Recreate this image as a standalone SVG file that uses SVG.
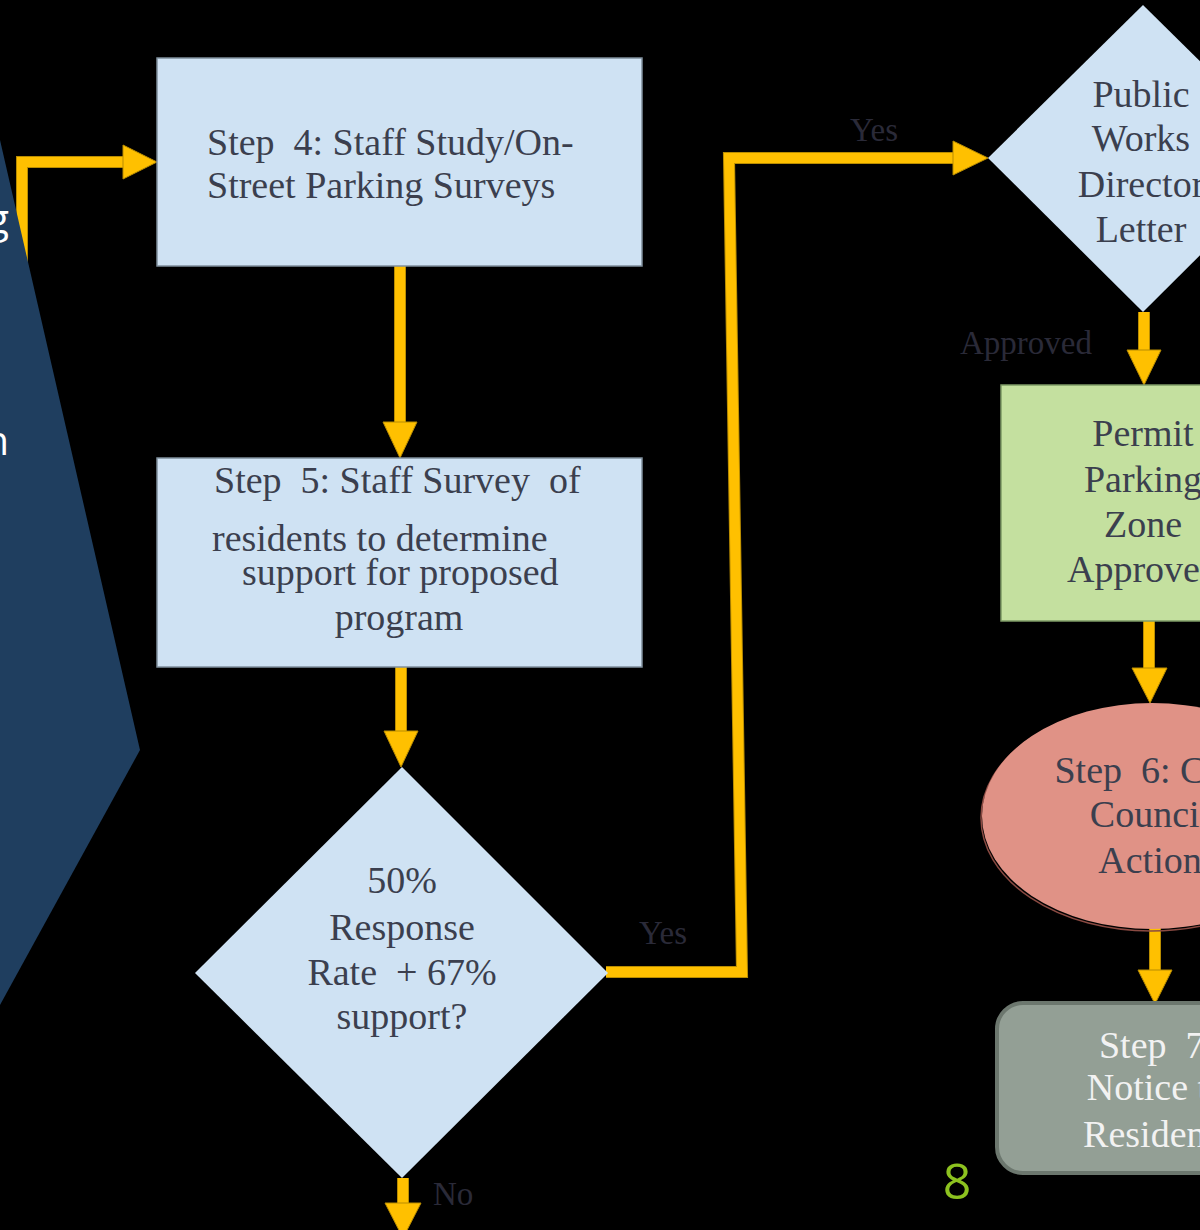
<svg xmlns="http://www.w3.org/2000/svg" width="1200" height="1230" viewBox="0 0 1200 1230">
<style>
text{white-space:pre}
.bg{fill:#000000}
.box{fill:#CFE2F3;stroke:#7F8E9C;stroke-width:1.5}
.t{font-family:"Liberation Serif","Times New Roman",serif;font-size:38px;fill:#3B3F4E}
.tc{text-anchor:middle}
.lbl{font-family:"Liberation Serif","Times New Roman",serif;font-size:33px;fill:#2A2A38}
.wt{font-family:"Liberation Serif","Times New Roman",serif;font-size:38px;fill:#F2F2F2;text-anchor:middle}
.line{fill:none;stroke:#FFC000;stroke-width:10;stroke-linejoin:miter}
.lineo{fill:none;stroke:#B98C00;stroke-width:12;stroke-linejoin:miter}
.head{fill:#FFC000;stroke:#B98C00;stroke-width:1}
</style>
<rect class="bg" x="0" y="0" width="1200" height="1230"/>

<g id="connectors">
<path class="lineo" d="M22,300 L22,162 L125,162"/>
<path class="line" d="M22,300 L22,162 L125,162"/>
<polygon class="head" points="123,145 157,162 123,179"/>

<path class="lineo" d="M400,266 L400,424"/>
<path class="line" d="M400,266 L400,424"/>
<polygon class="head" points="383,422 400,458 417,422"/>

<path class="lineo" d="M401,667 L401,733"/>
<path class="line" d="M401,667 L401,733"/>
<polygon class="head" points="384,731 401,767 418,731"/>

<path class="lineo" d="M606,972 L742,972 L729,158 L955,158"/>
<path class="line" d="M606,972 L742,972 L729,158 L955,158"/>
<polygon class="head" points="953,141 988,158 953,175"/>

<path class="lineo" d="M1144,312 L1144,352"/>
<path class="line" d="M1144,312 L1144,352"/>
<polygon class="head" points="1127,350 1144,385 1161,350"/>

<path class="lineo" d="M1149,621 L1149,670"/>
<path class="line" d="M1149,621 L1149,670"/>
<polygon class="head" points="1132,668 1150,703 1167,668"/>

<path class="lineo" d="M1155,928 L1155,972"/>
<path class="line" d="M1155,928 L1155,972"/>
<polygon class="head" points="1138,970 1155,1004 1172,970"/>

<path class="lineo" d="M403,1178 L403,1205"/>
<path class="line" d="M403,1178 L403,1205"/>
<polygon class="head" points="385,1203 403,1238 421,1203"/>

<text class="lbl" x="850" y="141">Yes</text>
<text class="lbl" x="639" y="944">Yes</text>
<text class="lbl" x="960" y="354">Approved</text>
<text class="lbl" x="433" y="1205">No</text>
</g>

<g id="side-panel">
<polygon points="0,140 140,750 0,1005" fill="#1F3E5F"/>
<text x="9" y="233" font-family="'Open Sans','DejaVu Sans',sans-serif" font-size="40" fill="#FFFFFF" text-anchor="end">g</text>
<text x="9" y="455" font-family="'Open Sans','DejaVu Sans',sans-serif" font-size="40" fill="#FFFFFF" text-anchor="end">n</text>
</g>

<g id="step4">
<rect class="box" x="157" y="58" width="485" height="208"/>
<text class="t" x="207" y="155">Step&#160; 4: Staff Study/On-</text>
<text class="t" x="207" y="198">Street Parking Surveys</text>
</g>

<g id="step5">
<rect class="box" x="157" y="458" width="485" height="209"/>
<text class="t" x="214" y="493">Step&#160; 5: Staff Survey&#160; of</text>
<text class="t" x="212" y="551">residents to determine</text>
<text class="t" x="242" y="585">support for proposed</text>
<text class="t tc" x="399" y="630">program</text>
</g>

<g id="decision-response">
<polygon points="402,767 608,973 402,1178 195,973" fill="#CFE2F3"/>
<text class="t tc" x="402" y="893">50%</text>
<text class="t tc" x="402" y="940">Response</text>
<text class="t tc" x="402" y="985">Rate&#160; + 67%</text>
<text class="t tc" x="402" y="1029">support?</text>
</g>

<g id="decision-director">
<polygon points="1143,5 1298,158 1143,312 988,158" fill="#CFE2F3"/>
<text class="t tc" x="1141" y="107">Public</text>
<text class="t tc" x="1141" y="151">Works</text>
<text class="t tc" x="1141" y="197">Director</text>
<text class="t tc" x="1141" y="242">Letter</text>
</g>

<g id="permit-approved">
<rect x="1001" y="385" width="260" height="236" fill="#C4E09F" stroke="#7E9A66" stroke-width="1.5"/>
<text class="t tc" x="1143" y="446">Permit</text>
<text class="t tc" x="1143" y="492">Parking</text>
<text class="t tc" x="1143" y="537">Zone</text>
<text class="t tc" x="1143" y="582">Approved</text>
</g>

<g id="step6">
<ellipse cx="1151" cy="818" rx="170" ry="113" fill="none" stroke="#8A4A42" stroke-width="1.5"/>
<ellipse cx="1152" cy="816" rx="170" ry="113" fill="#E09286"/>
<text class="t tc" x="1150" y="783">Step&#160; 6: City</text>
<text class="t tc" x="1150" y="827">Council</text>
<text class="t tc" x="1150" y="873">Action</text>
</g>

<g id="step7">
<rect x="997" y="1003" width="260" height="170" rx="26" ry="26" fill="#939F95" stroke="#6C776E" stroke-width="4"/>
<text class="wt" x="1157" y="1058">Step&#160; 7:</text>
<text class="wt" x="1157" y="1100">Notice to</text>
<text class="wt" x="1157" y="1147">Residents</text>
</g>

<text x="957" y="1199" font-family="'Open Sans','DejaVu Sans',sans-serif" font-size="50" fill="#8DC21F" text-anchor="middle">8</text>
</svg>
